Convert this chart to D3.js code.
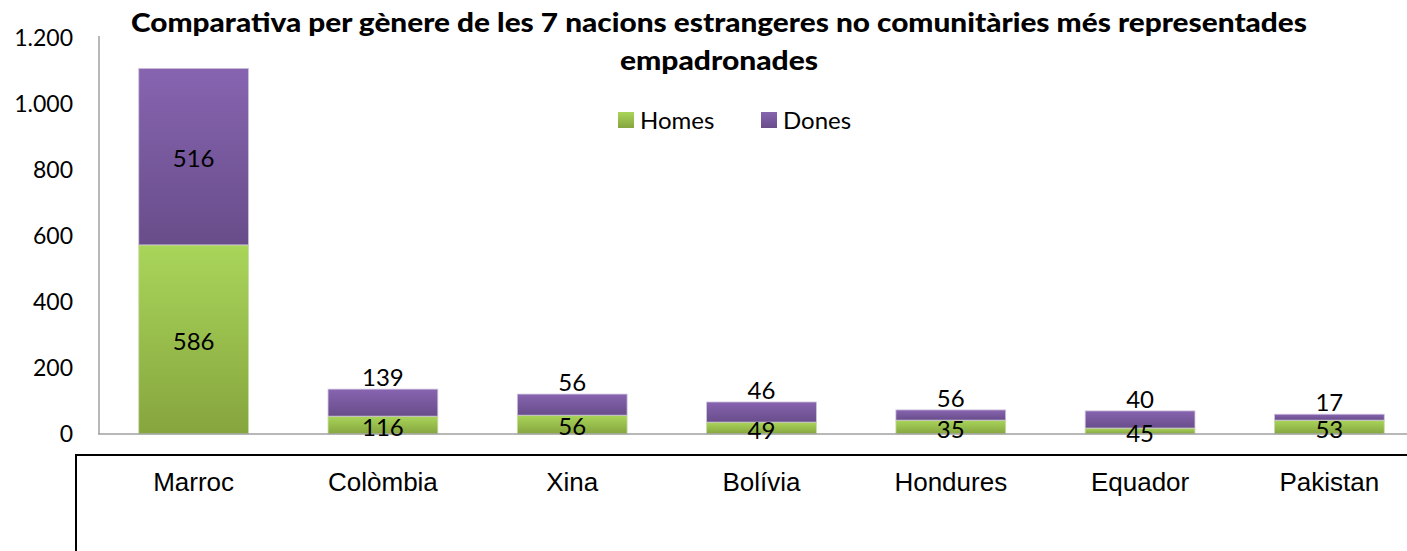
<!DOCTYPE html>
<html>
<head>
<meta charset="utf-8">
<script src="https://cdn.jsdelivr.net/npm/d3@7"></script>
<style>
  body { margin: 0; background: #fff; }
  svg { display: block; }
</style>
</head>
<body>
<svg id="chart" width="1407" height="551"></svg>
<script>
// bar values
const countries = ["Marroc", "Colòmbia", "Xina", "Bolívia", "Hondures", "Equador", "Pakistan"];
const homes = [573, 54, 57, 36, 42, 18, 42];
const dones = [535, 82, 64, 61, 31, 52, 18];
// data labels as printed on the chart
const labelHomes = [586, 116, 56, 49, 35, 45, 53];
const labelDones = [516, 139, 56, 46, 56, 40, 17];
const yTicks = [0, 200, 400, 600, 800, 1000, 1200];

const svg = d3.select("#chart");
const numFont = "Lato, 'Open Sans', sans-serif";

const ca = d3.formatLocale({decimal: ",", thousands: ".", grouping: [3], currency: ["", " €"]});
const fmt = ca.format(",d");

const x = d3.scaleBand()
    .domain(countries)
    .range([99, 1424])
    .paddingInner(0.42)
    .paddingOuter(0.21);

const y = d3.scaleLinear()
    .domain([0, 1200])
    .range([434, 38]);

// gradients
const defs = svg.append("defs");
function grad(id, top, bottom) {
    const g = defs.append("linearGradient").attr("id", id)
        .attr("x1", 0).attr("y1", 0).attr("x2", 0).attr("y2", 1);
    g.append("stop").attr("offset", "0%").attr("stop-color", top);
    g.append("stop").attr("offset", "100%").attr("stop-color", bottom);
}
grad("gHomes", "#a9d55a", "#86a53e");
grad("gDones", "#8764b0", "#684d8a");

// title
const title = svg.append("g")
    .attr("text-anchor", "middle")
    .attr("font-family", numFont)
    .attr("font-weight", 900)
    .attr("font-size", 27);
title.append("text")
    .attr("x", 719).attr("y", 32)
    .attr("textLength", 1176)
    .attr("lengthAdjust", "spacingAndGlyphs")
    .text("Comparativa per gènere de les 7 nacions estrangeres no comunitàries més representades");
title.append("text")
    .attr("x", 719).attr("y", 70)
    .attr("textLength", 198)
    .attr("lengthAdjust", "spacingAndGlyphs")
    .text("empadronades");

// y axis labels
svg.append("g").selectAll("text")
    .data(yTicks)
    .join("text")
    .attr("x", 73)
    .attr("y", d => y(d))
    .attr("dy", "0.36em")
    .attr("text-anchor", "end")
    .attr("font-family", numFont)
    .attr("font-size", 23)
    .attr("fill", "#000")
    .text(d => fmt(d));

// bars
const rows = countries.map((c, i) => ({c, h: homes[i], d: dones[i], lh: labelHomes[i], ld: labelDones[i]}));

const bars = svg.append("g");
bars.selectAll(".h")
    .data(rows)
    .join("rect")
    .attr("class", "h")
    .attr("x", d => x(d.c))
    .attr("width", x.bandwidth())
    .attr("y", d => y(d.h))
    .attr("height", d => y(0) - y(d.h))
    .attr("fill", "url(#gHomes)")
    .attr("stroke", "#c8dca8")
    .attr("stroke-width", 0.8);

bars.selectAll(".d")
    .data(rows)
    .join("rect")
    .attr("class", "d")
    .attr("x", d => x(d.c))
    .attr("width", x.bandwidth())
    .attr("y", d => y(d.h + d.d))
    .attr("height", d => y(d.h) - y(d.h + d.d))
    .attr("fill", "url(#gDones)")
    .attr("stroke", "#cfc4dc")
    .attr("stroke-width", 0.8);

// axes lines
svg.append("line")
    .attr("x1", 99).attr("x2", 99)
    .attr("y1", 36).attr("y2", 434)
    .attr("stroke", "#a0a0a0").attr("stroke-width", 1.5);
svg.append("line")
    .attr("x1", 98).attr("x2", 1407)
    .attr("y1", 434).attr("y2", 434)
    .attr("stroke", "#a0a0a0").attr("stroke-width", 1.5);

// data labels
const lbl = svg.append("g")
    .attr("font-family", numFont)
    .attr("font-size", 24)
    .attr("text-anchor", "middle");

lbl.selectAll(".lh")
    .data(rows)
    .join("text")
    .attr("x", d => x(d.c) + x.bandwidth() / 2)
    .attr("y", d => (y(0) + y(d.h)) / 2 + 2)
    .attr("dy", "0.36em")
    .text(d => d.lh);

lbl.selectAll(".ld")
    .data(rows)
    .join("text")
    .attr("x", d => x(d.c) + x.bandwidth() / 2)
    .attr("y", d => {
        const top = y(d.h + d.d), mid = (y(d.h) + top) / 2;
        return (y(d.h) - top > 40) ? mid + 2 : top - 12;
    })
    .attr("dy", "0.36em")
    .text(d => d.ld);

// legend
const legend = svg.append("g").attr("font-family", numFont).attr("font-size", 24);
const legItems = [{name: "Homes", fill: "url(#gHomes)", x: 618}, {name: "Dones", fill: "url(#gDones)", x: 761}];
legItems.forEach(it => {
    legend.append("rect")
        .attr("x", it.x).attr("y", 112)
        .attr("width", 16).attr("height", 16)
        .attr("fill", it.fill);
    legend.append("text")
        .attr("x", it.x + 22).attr("y", 120)
        .attr("dy", "0.36em")
        .text(it.name);
});

// box with the category names
svg.append("rect")
    .attr("x", 76).attr("y", 455)
    .attr("width", 1400).attr("height", 200)
    .attr("fill", "none")
    .attr("stroke", "#000")
    .attr("stroke-width", 2);

svg.append("g").selectAll("text")
    .data(countries)
    .join("text")
    .attr("x", d => x(d) + x.bandwidth() / 2)
    .attr("y", 491)
    .attr("text-anchor", "middle")
    .attr("font-family", "'Liberation Sans', Arial, sans-serif")
    .attr("font-size", 26)
    .text(d => d);
</script>
</body>
</html>
